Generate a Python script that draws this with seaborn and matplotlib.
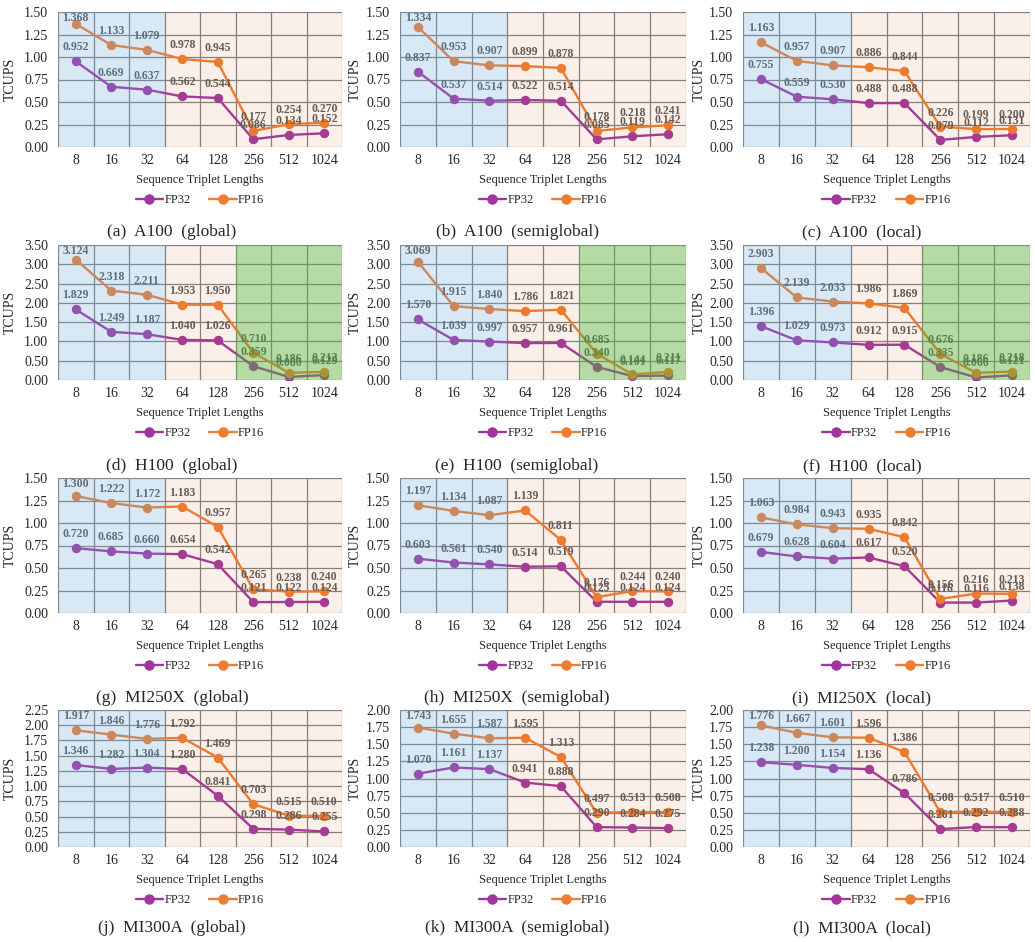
import numpy as np
import pandas as pd
import matplotlib
matplotlib.use("Agg")
import matplotlib.pyplot as plt
from matplotlib.lines import Line2D
import seaborn as sns

sns.set_style("white")
plt.rcParams['font.family'] = ['Liberation Serif', 'DejaVu Serif']

lengths = ["8", "16", "32", "64", "128", "256", "512", "1024"]
series_names = ["FP32", "FP16"]

a100_global_fp32 = [0.952, 0.669, 0.637, 0.562, 0.544, 0.086, 0.134, 0.152]
a100_global_fp16 = [1.368, 1.133, 1.079, 0.978, 0.945, 0.177, 0.254, 0.270]
a100_semi_fp32 = [0.837, 0.537, 0.514, 0.522, 0.514, 0.085, 0.119, 0.142]
a100_semi_fp16 = [1.334, 0.953, 0.907, 0.899, 0.878, 0.178, 0.218, 0.241]
a100_local_fp32 = [0.755, 0.559, 0.530, 0.488, 0.488, 0.079, 0.112, 0.131]
a100_local_fp16 = [1.163, 0.957, 0.907, 0.886, 0.844, 0.226, 0.199, 0.200]
h100_global_fp32 = [1.829, 1.249, 1.187, 1.040, 1.026, 0.359, 0.080, 0.129]
h100_global_fp16 = [3.124, 2.318, 2.211, 1.953, 1.950, 0.710, 0.186, 0.212]
h100_semi_fp32 = [1.570, 1.039, 0.997, 0.957, 0.961, 0.340, 0.101, 0.117]
h100_semi_fp16 = [3.069, 1.915, 1.840, 1.786, 1.821, 0.685, 0.144, 0.211]
h100_local_fp32 = [1.396, 1.029, 0.973, 0.912, 0.915, 0.335, 0.066, 0.121]
h100_local_fp16 = [2.903, 2.139, 2.033, 1.986, 1.869, 0.676, 0.186, 0.218]
mi250x_global_fp32 = [0.720, 0.685, 0.660, 0.654, 0.542, 0.121, 0.122, 0.124]
mi250x_global_fp16 = [1.300, 1.222, 1.172, 1.183, 0.957, 0.265, 0.238, 0.240]
mi250x_semi_fp32 = [0.603, 0.561, 0.540, 0.514, 0.519, 0.125, 0.124, 0.124]
mi250x_semi_fp16 = [1.197, 1.134, 1.087, 1.139, 0.811, 0.176, 0.244, 0.240]
mi250x_local_fp32 = [0.679, 0.628, 0.604, 0.617, 0.520, 0.116, 0.116, 0.138]
mi250x_local_fp16 = [1.063, 0.984, 0.943, 0.935, 0.842, 0.156, 0.216, 0.213]
mi300a_global_fp32 = [1.346, 1.282, 1.304, 1.280, 0.841, 0.298, 0.286, 0.255]
mi300a_global_fp16 = [1.917, 1.846, 1.776, 1.792, 1.469, 0.703, 0.515, 0.510]
mi300a_semi_fp32 = [1.070, 1.161, 1.137, 0.941, 0.888, 0.290, 0.284, 0.275]
mi300a_semi_fp16 = [1.743, 1.655, 1.587, 1.595, 1.313, 0.497, 0.513, 0.508]
mi300a_local_fp32 = [1.238, 1.200, 1.154, 1.136, 0.786, 0.261, 0.292, 0.288]
mi300a_local_fp16 = [1.776, 1.667, 1.601, 1.596, 1.386, 0.508, 0.517, 0.510]

captions = [
    "(a)  A100  (global)", "(b)  A100  (semiglobal)", "(c)  A100  (local)",
    "(d)  H100  (global)", "(e)  H100  (semiglobal)", "(f)  H100  (local)",
    "(g)  MI250X  (global)", "(h)  MI250X  (semiglobal)", "(i)  MI250X  (local)",
    "(j)  MI300A  (global)", "(k)  MI300A  (semiglobal)", "(l)  MI300A  (local)",
]
panel_data = [
    (a100_global_fp32, a100_global_fp16), (a100_semi_fp32, a100_semi_fp16), (a100_local_fp32, a100_local_fp16),
    (h100_global_fp32, h100_global_fp16), (h100_semi_fp32, h100_semi_fp16), (h100_local_fp32, h100_local_fp16),
    (mi250x_global_fp32, mi250x_global_fp16), (mi250x_semi_fp32, mi250x_semi_fp16), (mi250x_local_fp32, mi250x_local_fp16),
    (mi300a_global_fp32, mi300a_global_fp16), (mi300a_semi_fp32, mi300a_semi_fp16), (mi300a_local_fp32, mi300a_local_fp16),
]
ymax_list = [1.5, 1.5, 1.5, 3.5, 3.5, 3.5, 1.5, 1.5, 1.5, 2.25, 2.0, 2.0]
ystep_list = [0.25, 0.25, 0.25, 0.5, 0.5, 0.5, 0.25, 0.25, 0.25, 0.25, 0.25, 0.25]

shade_default = [(0, 2, "blue"), (3, 7, "peach")]
shade_h100 = [(0, 2, "blue"), (3, 4, "peach"), (5, 7, "green")]
shade_list = [shade_default] * 3 + [shade_h100] * 3 + [shade_default] * 6
shade_colors = {"blue": ("#6FA8DC", 0.26), "peach": ("#D7732D", 0.10), "green": ("#5BAF39", 0.45)}

palette = {"FP32": "#A0359F", "FP16": "#ED7D31"}

W, H = 1035, 942
fig = plt.figure(figsize=(W / 100, H / 100), dpi=100)

col_lr = [(58, 342), (400, 686), (743, 1030)]
row_tb = [(12, 147), (245, 380), (478, 613), (710, 847)]
cap_x = [172, 517, 862]
cap_y = [232, 466, 698, 928]
ylab_x = [17, 362, 706]

for i in range(12):
    r, c = divmod(i, 3)
    l, rr = col_lr[c]
    t, b = row_tb[r]
    hpx = b - t
    ax = fig.add_axes([l / W, 1 - b / H, (rr - l) / W, hpx / H])
    fp32, fp16 = panel_data[i]
    df = pd.DataFrame({
        "length": lengths * 2,
        "tcups": list(fp32) + list(fp16),
        "precision": ["FP32"] * 8 + ["FP16"] * 8,
    })
    sns.pointplot(data=df, x="length", y="tcups", hue="precision", order=lengths,
                  hue_order=series_names, palette=palette, markers="o", linestyles="-",
                  errorbar=None, legend=False, ax=ax, markersize=5.5, linewidth=1.7)
    for ln in ax.lines:
        ln.set_zorder(3)
    for coll in ax.collections:
        coll.set_zorder(3)
    ymax = ymax_list[i]
    for vals in (fp32, fp16):
        for k, v in enumerate(vals):
            dist_px = (ymax - v) / ymax * hpx
            off_px = min(14.0, dist_px - 6.0)
            ax.annotate(f"{v:.3f}", (k, v), xytext=(0, off_px * 0.72), textcoords="offset points",
                        ha="center", va="center", fontsize=8.5, fontweight="bold",
                        color="#595959", zorder=4, annotation_clip=False)
    ax.set_xlim(-0.5, 7.5)
    ax.set_ylim(0, ymax)
    yt = np.arange(0, ymax + 1e-9, ystep_list[i])
    ax.set_yticks(yt)
    ax.set_yticklabels([f"{y:.2f}" for y in yt])
    for y in yt:
        ax.axhline(y, color="#808080", lw=0.9, zorder=1)
    for k in range(9):
        ax.axvline(k - 0.5, color="#808080", lw=0.9, zorder=1)
    for s, e, name in shade_list[i]:
        col, al = shade_colors[name]
        ax.axvspan(s - 0.5, e + 0.5, color=col, alpha=al, lw=0, zorder=5)
    for sp in ax.spines.values():
        sp.set_visible(False)
    ax.tick_params(axis="both", length=0, labelsize=10)
    ax.tick_params(axis="y", pad=7)
    ax.tick_params(axis="x", pad=5)
    ax.set_xlabel("Sequence Triplet Lengths", fontsize=9, labelpad=5)
    ax.set_ylabel("TCUPS", fontsize=10)
    ax.yaxis.set_label_coords((ylab_x[c] - l) / (rr - l), 0.5)
    handles = [Line2D([], [], color=palette[n], marker="o", markersize=6.5, lw=1.7) for n in series_names]
    ax.legend(handles, series_names, loc="center", ncol=2, frameon=False,
              bbox_to_anchor=(0.5, -53 / hpx), fontsize=9, handlelength=2.2,
              handletextpad=0.1, columnspacing=1.5)
    fig.text(cap_x[c] / W, 1 - cap_y[r] / H, captions[i], ha="center", va="center", fontsize=12.5)

fig.savefig("out.png", dpi=100)
